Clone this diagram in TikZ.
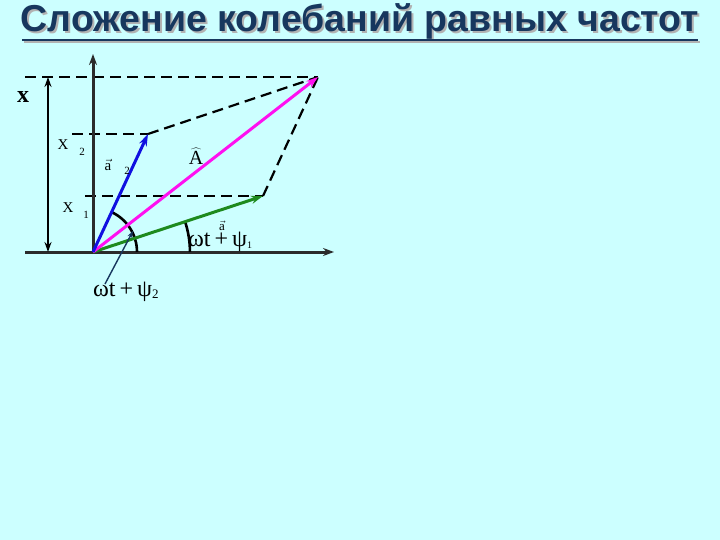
\documentclass[tikz,border=0pt]{standalone}
\usepackage{fontspec}
\setmainfont{Liberation Serif}
\newfontfamily\titlefont{Liberation Sans}
\usetikzlibrary{arrows.meta}
\definecolor{bgc}{HTML}{CCFFFF}
\definecolor{navy}{HTML}{17375E}
\definecolor{axisc}{HTML}{2B2B2B}
\definecolor{vblue}{HTML}{1010E0}
\definecolor{vmag}{HTML}{FF10F0}
\definecolor{vgreen}{HTML}{1E8A1E}
\begin{document}
\begin{tikzpicture}[x=1pt,y=-1pt,
  axis/.style={draw=axisc,line width=3pt,-{Stealth[length=11pt,width=8pt]}},
  dsh/.style={draw=black,line width=2.2pt,dash pattern=on 11pt off 6pt},
  vec/.style={line width=3pt,-{Stealth[length=12pt,width=8pt]}},
  lbl/.style={inner sep=0pt,font=\fontsize{15}{15}\selectfont},
  sub/.style={inner sep=0pt,font=\fontsize{11}{11}\selectfont}]
\useasboundingbox[fill=bgc] (0,0) rectangle (720,540);
% title
\node[text=gray!60,font=\titlefont\bfseries\fontsize{37.5}{37.5}\selectfont] at (362,23) {Сложение колебаний равных частот};
\draw[gray!60,line width=2.5pt] (24,42) -- (700,42);
\node[text=navy,font=\titlefont\bfseries\fontsize{37.5}{37.5}\selectfont] (title) at (360,21) {Сложение колебаний равных частот};
\draw[navy,line width=2.5pt] (22,40) -- (698,40);
% points
\coordinate (O) at (93,252);
\coordinate (P2) at (148,134);
\coordinate (P1) at (263,196);
\coordinate (PA) at (318,77);
\coordinate (hL) at (25,252);
\coordinate (hR) at (334,252);
\coordinate (vT) at (93,54);
% dashed guides
\draw[dsh] (25,77) -- (PA);
\draw[dsh] (72,134) -- (P2);
\draw[dsh] (85,196) -- (P1);
\draw[dsh] (P2) -- (PA);
\draw[dsh] (P1) -- (PA);
% axes
\draw[axis] (hL) -- (hR);
\draw[axis] (O) -- (vT);
% double arrow
\coordinate (dT) at (48,77);
\coordinate (dB) at (48,252);
\draw[black,line width=2.2pt,{Stealth[length=10pt,width=7pt]}-{Stealth[length=10pt,width=7pt]}] (dB) -- (dT);
% angle arcs
\draw[black,line width=2.6pt] (111.6,212.1) arc[start angle=-65,end angle=0,radius=44];
\draw[black,line width=2.6pt] (185.1,221.7) arc[start angle=-18.2,end angle=0,radius=97];
% vectors
\draw[vec,draw=vgreen,fill=vgreen] (O) -- (P1);
\draw[vec,draw=vmag,fill=vmag] (O) -- (PA);
\draw[vec,draw=vblue,fill=vblue] (O) -- (P2);
% pointer to angle 2
\coordinate (ptr) at (133,231);
\coordinate (ptrS) at (105,284);
\draw[navy,line width=1.4pt,-{Stealth[length=7pt,width=5pt]}] (ptrS) -- (ptr);
% labels
\node[lbl,font=\bfseries\fontsize{24}{24}\selectfont] (lx) at (23,97) {x};
\node[lbl] (lX2) at (63,145) {X};
\node[sub] (lX2s) at (82,152) {2};
\node[lbl] (la2) at (108,165) {$\vec{\mathrm{a}}$};
\node[sub] (la2s) at (127,171) {2};
\node[lbl] (lX1) at (68,208) {X};
\node[sub] (lX1s) at (86,215) {1};
\node[lbl,font=\fontsize{20}{20}\selectfont] (lA) at (196,156) {$\widehat{\mathrm{A}}$};
\node[lbl,font=\fontsize{13}{13}\selectfont] (la1) at (222,226) {$\vec{\mathrm{a}}$};
\node[lbl,anchor=west,font=\fontsize{24}{24}\selectfont] (ang1) at (188,242) {ωt\,+\,ψ\raisebox{-2pt}{\fontsize{10}{10}\selectfont 1}};
\node[lbl,anchor=west,font=\fontsize{24}{24}\selectfont] (ang2) at (93,292) {ωt\,+\,ψ\raisebox{-2pt}{\fontsize{13}{13}\selectfont 2}};
\end{tikzpicture}
\end{document}
